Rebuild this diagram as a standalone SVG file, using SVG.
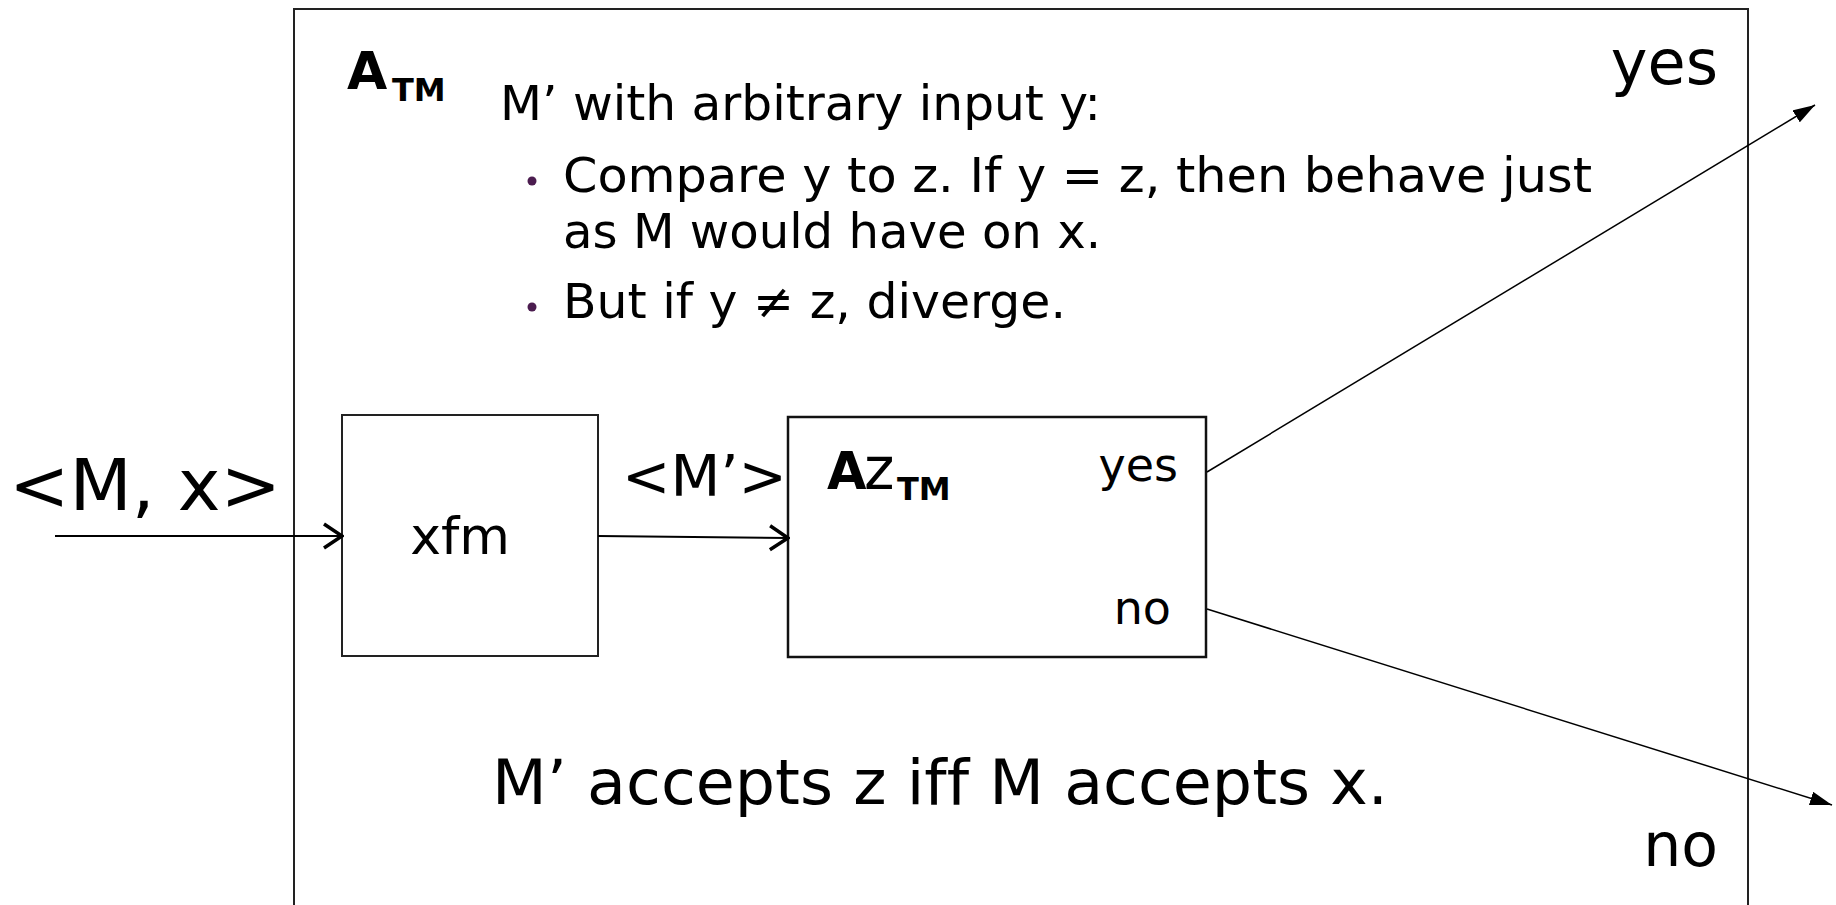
<svg xmlns="http://www.w3.org/2000/svg" width="1836" height="905" viewBox="0 0 1836 905">
<defs>
<marker id="open" viewBox="0 0 22 28" refX="20" refY="14" markerWidth="22" markerHeight="28" markerUnits="userSpaceOnUse" orient="auto">
<path d="M2,2 L20,14 L2,26" fill="none" stroke="#000" stroke-width="3.5"/>
</marker>
<marker id="solid" viewBox="0 0 22 14" refX="22" refY="7" markerWidth="22" markerHeight="14" markerUnits="userSpaceOnUse" orient="auto">
<path d="M0,0 L22,7 L0,14 z" fill="#000"/>
</marker>
</defs>
<style>
text { font-family: "DejaVu Sans", Verdana, sans-serif; fill: #000; font-variant-ligatures: none; }
.b { font-weight: bold; }
.box { fill: none; stroke: #222; stroke-width: 2; }
.thick { fill: none; stroke: #111; stroke-width: 2.5; }
.conn { fill: none; stroke: #000; stroke-width: 2; }
.thin { fill: none; stroke: #000; stroke-width: 1.5; }
.body { font-size: 48px; }
.dot { fill: #4b1c4f; }
</style>
<rect x="0" y="0" width="1836" height="905" fill="#fff"/>

<g id="outer">
<rect class="box" x="294" y="9" width="1454" height="910"/>
<text class="b" x="347" y="89" font-size="52">A</text>
<text class="b" x="392" y="101" font-size="32">TM</text>
<text class="body" x="500" y="120" textLength="601" lengthAdjust="spacingAndGlyphs">M’ with arbitrary input y:</text>
<circle class="dot" cx="532" cy="181" r="4.5"/>
<text class="body" x="563" y="192" textLength="1029" lengthAdjust="spacingAndGlyphs">Compare y to z. If y = z, then behave just</text>
<text class="body" x="563" y="248" textLength="538" lengthAdjust="spacingAndGlyphs">as M would have on x.</text>
<circle class="dot" cx="532" cy="307" r="4.5"/>
<text class="body" x="563" y="318" textLength="503" lengthAdjust="spacingAndGlyphs">But if y ≠ z, diverge.</text>
<text x="1718" y="84" font-size="62" text-anchor="end">yes</text>
<text x="1718" y="866" font-size="60" text-anchor="end">no</text>
<text x="492" y="804" font-size="62" textLength="896" lengthAdjust="spacingAndGlyphs">M’ accepts z iff M accepts x.</text>
</g>

<g id="input-label">
<text x="9" y="510" font-size="72" textLength="272" lengthAdjust="spacingAndGlyphs">&lt;M, x&gt;</text>
</g>

<g id="xfm">
<rect class="box" x="342" y="415" width="256" height="241"/>
<text x="460" y="554" font-size="52" text-anchor="middle">xfm</text>
</g>

<g id="mprime-label">
<text x="622" y="496" font-size="57" textLength="165" lengthAdjust="spacingAndGlyphs">&lt;M’&gt;</text>
</g>

<g id="azTM">
<rect class="thick" x="788" y="417" width="418" height="240"/>
<text class="b" x="827" y="489" font-size="51">A</text>
<text x="864" y="489" font-size="58">z</text>
<text class="b" x="897" y="500" font-size="32">TM</text>
<text x="1178" y="481" font-size="46" text-anchor="end">yes</text>
<text x="1171" y="624" font-size="46" text-anchor="end">no</text>
</g>

<g id="connectors">
<line class="conn" x1="55" y1="536" x2="342" y2="536" marker-end="url(#open)"/>
<line class="conn" x1="598" y1="536" x2="788" y2="538" marker-end="url(#open)"/>
<line class="thin" x1="1207" y1="472" x2="1815" y2="105" marker-end="url(#solid)"/>
<line class="thin" x1="1207" y1="609" x2="1832" y2="805" marker-end="url(#solid)"/>
</g>
</svg>
